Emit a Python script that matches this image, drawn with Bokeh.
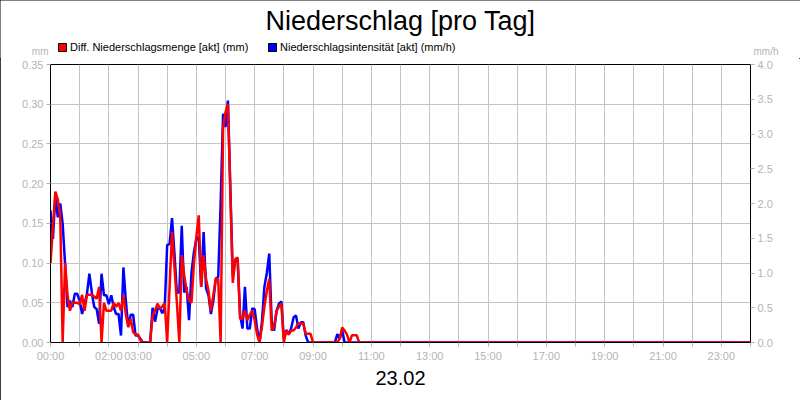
from bokeh.plotting import figure
from bokeh.layouts import column
from bokeh.models import (Range1d, LinearAxis, FixedTicker, NumeralTickFormatter,
                          Label, Legend, LegendItem)
from bokeh.embed import file_html
from bokeh.resources import INLINE

# ---------------- data ----------------
title_text = "Niederschlag [pro Tag]"
date_label = "23.02"
series_names = ["Diff. Niederschlagsmenge [akt] (mm)", "Niederschlagsintensität [akt] (mm/h)"]
step_minutes = 5
n_points = 289  # 00:00 .. 24:00 every 5 minutes

menge_mm = [
    0.10, 0.145, 0.19, 0.18, 0.16, 0.0, 0.10, 0.06, 0.04, 0.05, 0.05, 0.05,
    0.048, 0.06, 0.04, 0.06, 0.06, 0.06, 0.058, 0.055, 0.07, 0.0, 0.05, 0.04,
    0.04, 0.04, 0.05, 0.045, 0.05, 0.04, 0.06, 0.035, 0.02, 0.03, 0.013, 0.01,
    0.01, 0.003, 0.0, 0.0, 0.0, 0.0, 0.034, 0.04, 0.049, 0.043, 0.045, 0.05,
    0.0, 0.07, 0.139, 0.095, 0.05, 0.0, 0.11, 0.085, 0.065, 0.053, 0.05, 0.099,
    0.133, 0.16, 0.07, 0.11, 0.08, 0.065, 0.04, 0.06, 0.08, 0.08, 0.0, 0.27,
    0.29, 0.30, 0.19, 0.075, 0.105, 0.107, 0.03, 0.03, 0.04, 0.028, 0.035, 0.04,
    0.028, 0.01, 0.0, 0.02, 0.045, 0.065, 0.08, 0.015, 0.02, 0.04, 0.045, 0.049,
    0.0, 0.015, 0.01, 0.015, 0.015, 0.019, 0.024, 0.024, 0.024, 0.011, 0.011, 0.011,
    0.0, 0.0, 0.0, 0.0, 0.0, 0.0, 0.0, 0.0, 0.0, 0.0, 0.0, 0.005,
    0.019, 0.015, 0.01, 0.0, 0.009, 0.009, 0.009, 0.0,
]
intensitaet_mmh = [
    1.90, 1.49, 2.12, 1.80, 2.00, 1.71, 1.13, 0.51, 0.60, 0.51, 0.70, 0.70,
    0.60, 0.41, 0.55, 0.70, 0.99, 0.72, 0.51, 0.48, 0.27, 0.99, 0.68, 0.68,
    0.55, 0.68, 0.51, 0.41, 0.41, 0.10, 1.08, 0.60, 0.22, 0.40, 0.40, 0.10,
    0.10, 0.05, 0.0, 0.0, 0.0, 0.0, 0.50, 0.30, 0.48, 0.50, 0.42, 0.50,
    1.40, 1.42, 1.79, 1.28, 0.72, 0.72, 1.68, 0.72, 0.80, 0.32, 1.00, 1.30,
    1.49, 1.52, 0.80, 1.59, 0.78, 0.68, 0.41, 0.60, 0.92, 0.94, 2.00, 3.29,
    3.10, 3.48, 2.20, 0.95, 1.18, 1.18, 0.40, 0.20, 0.80, 0.20, 0.20, 0.49,
    0.48, 0.20, 0.0, 0.30, 0.80, 1.00, 1.28, 0.30, 0.17, 0.45, 0.56, 0.59,
    0.05, 0.18, 0.12, 0.20, 0.36, 0.39, 0.20, 0.29, 0.29, 0.10, 0.0, 0.0,
    0.0, 0.0, 0.0, 0.0, 0.0, 0.0, 0.0, 0.0, 0.0, 0.0, 0.12, 0.05,
    0.18, 0.0, 0.0, 0.0, 0.0, 0.0, 0.0, 0.0,
]
# rest of the day: no precipitation recorded
menge_mm = menge_mm + [0.0] * (n_points - len(menge_mm))
intensitaet_mmh = intensitaet_mmh + [0.0] * (n_points - len(intensitaet_mmh))
minutes = [i * step_minutes for i in range(n_points)]

left_ticks = [0.0, 0.05, 0.10, 0.15, 0.20, 0.25, 0.30, 0.35]
right_ticks = [0.0, 0.5, 1.0, 1.5, 2.0, 2.5, 3.0, 3.5, 4.0]
hour_ticks = [h * 60 for h in range(25)]
hour_labels = {0: "00:00", 120: "02:00", 180: "03:00", 300: "05:00", 420: "07:00",
               540: "09:00", 660: "11:00", 780: "13:00", 900: "15:00", 1020: "17:00",
               1140: "19:00", 1260: "21:00", 1380: "23:00"}
left_unit = "mm"
right_unit = "mm/h"

# ---------------- styling ----------------
FONT = "Liberation Sans"
GRAY_TXT = "#b4b4b4"
GRAY_TICK = "#b0b0b0"
GRID = "#c4c4c4"
W = 800
TOP_H = 58
CHART_H = 342
NAN = float("nan")

# ---- header strip: title, legend, units ----
head = figure(width=W, height=TOP_H, output_backend="svg", toolbar_location=None,
              x_range=Range1d(0, W), y_range=Range1d(TOP_H, 0),
              x_axis_type=None, y_axis_type=None, title_location=None,
              min_border_left=0, min_border_right=0, min_border_top=0, min_border_bottom=0)
head.frame_align = False
head.outline_line_color = None
head.xgrid.visible = False
head.ygrid.visible = False
head.background_fill_color = "white"
head.border_fill_color = "white"

head.add_layout(Label(x=400, y=20, text=title_text, text_align="center",
                      text_baseline="alphabetic", text_font=FONT,
                      text_font_size="27px", text_color="black"))
head.add_layout(Label(x=48, y=51, text=left_unit, text_align="right",
                      text_baseline="alphabetic", text_font=FONT,
                      text_font_size="10px", text_color=GRAY_TXT))
head.add_layout(Label(x=753, y=51, text=right_unit, text_align="left",
                      text_baseline="alphabetic", text_font=FONT,
                      text_font_size="10px", text_color=GRAY_TXT))

# legend swatches: renderers without drawable geometry
sq_red = head.quad(left=[NAN], right=[NAN], top=[NAN], bottom=[NAN],
                   fill_color="#ff0000", line_color="black")
sq_blue = head.quad(left=[NAN], right=[NAN], top=[NAN], bottom=[NAN],
                    fill_color="#0000ff", line_color="black")
legend = Legend(items=[LegendItem(label=series_names[0], renderers=[sq_red]),
                       LegendItem(label=series_names[1], renderers=[sq_blue])],
                location=(57, 5), orientation="horizontal",
                glyph_width=10, glyph_height=10, label_standoff=3,
                label_width=190, spacing=7, padding=0, margin=0,
                border_line_color=None, background_fill_alpha=0,
                label_text_font=FONT, label_text_font_size="11px",
                label_text_color="black")
head.add_layout(legend)

# ---- chart ----
p = figure(width=W, height=CHART_H, output_backend="svg", toolbar_location=None,
           x_range=Range1d(0, 1440), y_range=Range1d(0, 0.35),
           min_border_left=50, min_border_right=50, min_border_top=6,
           min_border_bottom=58, title_location=None)
p.frame_align = False
p.background_fill_color = "white"
p.border_fill_color = "white"
p.outline_line_color = "black"
p.outline_line_width = 1
p.extra_y_ranges = {"int": Range1d(0, 4.0)}

for ax in (p.xaxis[0], p.yaxis[0]):
    ax.axis_line_color = "black"
    ax.major_tick_line_color = GRAY_TICK
    ax.major_tick_out = 4
    ax.major_tick_in = 0
    ax.minor_tick_line_color = None
    ax.major_label_text_color = GRAY_TXT
    ax.major_label_text_font = FONT
    ax.major_label_text_font_size = "11px"
    ax.major_label_standoff = 3

p.yaxis[0].ticker = FixedTicker(ticks=left_ticks)
p.yaxis[0].formatter = NumeralTickFormatter(format="0.00")

p.xaxis[0].ticker = FixedTicker(ticks=hour_ticks)
p.xaxis[0].major_label_overrides = {t: hour_labels.get(t, "") for t in hour_ticks}
p.xaxis[0].axis_label = date_label
p.xaxis[0].axis_label_text_font = FONT
p.xaxis[0].axis_label_text_font_size = "20px"
p.xaxis[0].axis_label_text_font_style = "normal"
p.xaxis[0].axis_label_text_color = "black"
p.xaxis[0].axis_label_standoff = 6

rax = LinearAxis(y_range_name="int", ticker=FixedTicker(ticks=right_ticks),
                 formatter=NumeralTickFormatter(format="0.0"))
rax.axis_line_color = "black"
rax.major_tick_line_color = GRAY_TICK
rax.major_tick_out = 4
rax.major_tick_in = 0
rax.minor_tick_line_color = None
rax.major_label_text_color = GRAY_TXT
rax.major_label_text_font = FONT
rax.major_label_text_font_size = "11px"
rax.major_label_standoff = 3
p.add_layout(rax, "right")

p.xgrid.ticker = FixedTicker(ticks=hour_ticks)
p.ygrid.ticker = FixedTicker(ticks=left_ticks)
for g in (p.xgrid[0], p.ygrid[0]):
    g.grid_line_color = GRID
    g.grid_line_width = 1

p.line(minutes, intensitaet_mmh, y_range_name="int", line_color="#0000ff", line_width=2.5)
p.line(minutes, menge_mm, line_color="#ff0000", line_width=2.5)

layout = column(head, p, spacing=0, width=W, height=TOP_H + CHART_H)
layout.styles = {"outline": "1px solid black", "outline-offset": "-1px"}

open("out.html", "w").write(file_html(layout, INLINE))
